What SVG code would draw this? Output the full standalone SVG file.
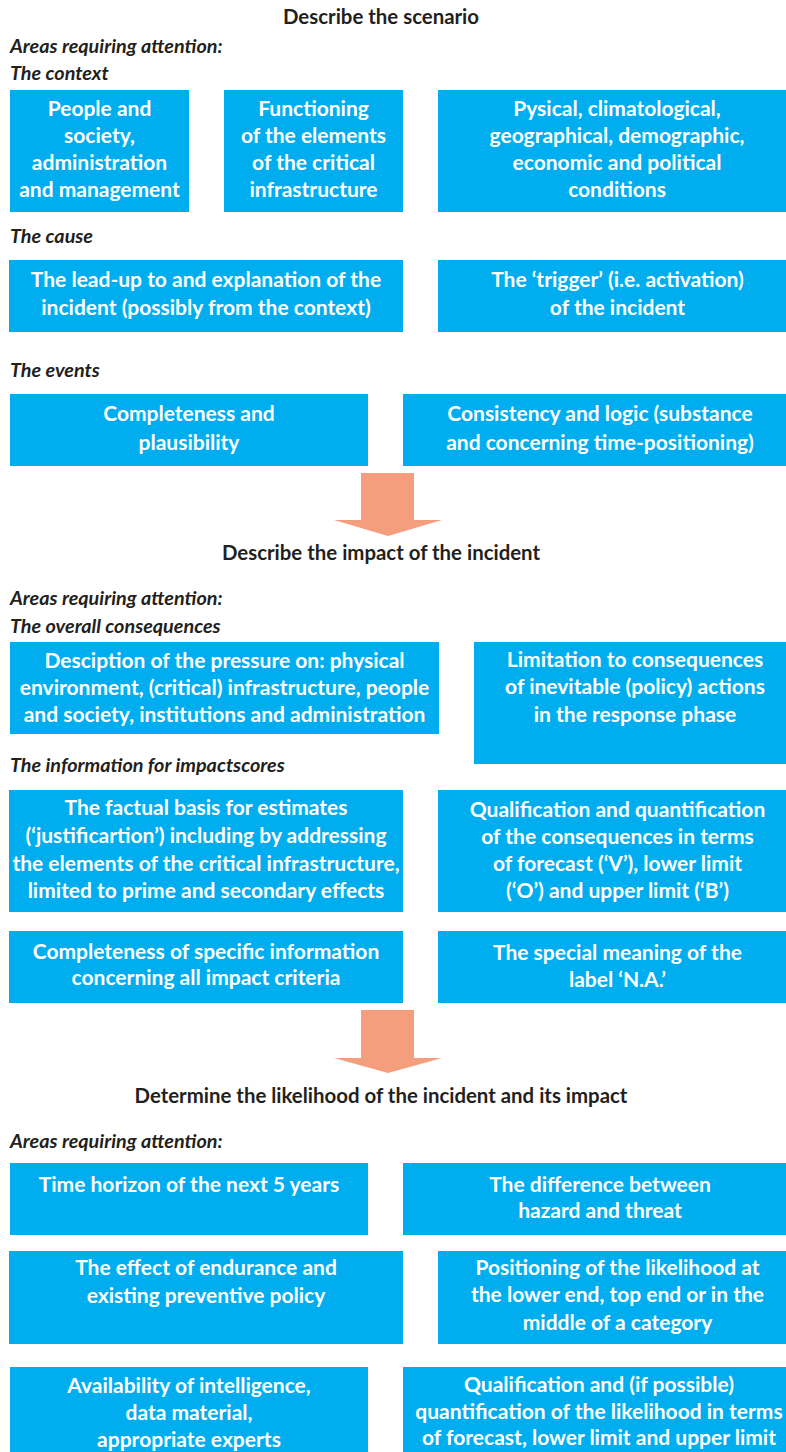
<svg xmlns="http://www.w3.org/2000/svg" width="786" height="1452" viewBox="0 0 786 1452">
<style>
.b{fill:#00aeef}
.t{font-family:Lato,"Open Sans","Liberation Sans",sans-serif;font-weight:700;font-size:21px;fill:#ffffff;text-anchor:middle}
.h{font-family:Lato,"Open Sans","Liberation Sans",sans-serif;font-weight:700;font-size:20.4px;fill:#231f20;text-anchor:middle}
.l{font-family:Lato,"Open Sans","Liberation Sans",sans-serif;font-weight:700;font-style:italic;font-size:19.8px;fill:#231f20}
.a{fill:#f59e7e}
</style>
<rect width="786" height="1452" fill="#ffffff"/>
<g id="headings">
<text class="h" x="381" y="24">Describe the scenario</text>
<text class="l" x="10" y="53">Areas requiring attention:</text>
<text class="l" x="10" y="80">The context</text>
<text class="l" x="10" y="243">The cause</text>
<text class="l" x="10" y="377">The events</text>
<text class="h" x="381" y="560">Describe the impact of the incident</text>
<text class="l" x="10" y="605">Areas requiring attention:</text>
<text class="l" x="10" y="633">The overall consequences</text>
<text class="l" x="10" y="772">The information for impactscores</text>
<text class="h" x="381" y="1103">Determine the likelihood of the incident and its impact</text>
<text class="l" x="10" y="1148">Areas requiring attention:</text>
</g>
<g id="connectors">
<polygon class="a" points="361,473 414,473 414,520 442,520 388,536 334,520 361,520"/>
<polygon class="a" points="361,1010 414,1010 414,1058 442,1058 388,1073 334,1058 361,1058"/>
</g>
<g id="n1"><rect class="b" x="10" y="90" width="179" height="122"/>
<text class="t" x="99.5" y="116">People and</text><text class="t" x="99.5" y="143">society,</text><text class="t" x="99.5" y="170">administration</text><text class="t" x="99.5" y="197">and management</text></g>
<g id="n2"><rect class="b" x="224" y="90" width="179" height="122"/>
<text class="t" x="313.5" y="116">Functioning</text><text class="t" x="313.5" y="143">of the elements</text><text class="t" x="313.5" y="170">of the critical</text><text class="t" x="313.5" y="197">infrastructure</text></g>
<g id="n3"><rect class="b" x="438" y="90" width="348" height="122"/>
<text class="t" x="617" y="116">Pysical, climatological,</text><text class="t" x="617" y="143">geographical, demographic,</text><text class="t" x="617" y="170">economic and political</text><text class="t" x="617" y="197">conditions</text></g>
<g id="n4"><rect class="b" x="9" y="260" width="394" height="72"/>
<text class="t" x="206" y="287">The lead-up to and explanation of the</text><text class="t" x="206" y="315">incident (possibly from the context)</text></g>
<g id="n5"><rect class="b" x="438" y="260" width="348" height="72"/>
<text class="t" x="617.5" y="287">The ‘trigger’ (i.e. activation)</text><text class="t" x="617.5" y="315">of the incident</text></g>
<g id="n6"><rect class="b" x="10" y="394" width="358" height="72"/>
<text class="t" x="189" y="421">Completeness and</text><text class="t" x="189" y="450">plausibility</text></g>
<g id="n7"><rect class="b" x="403" y="394" width="383" height="72"/>
<text class="t" x="600" y="421">Consistency and logic (substance</text><text class="t" x="600" y="450">and concerning time-positioning)</text></g>
<g id="n8"><rect class="b" x="10" y="642" width="429" height="92"/>
<text class="t" x="224.5" y="668">Desciption of the pressure on: physical</text><text class="t" x="224.5" y="695">environment, (critical) infrastructure, people</text><text class="t" x="224.5" y="722">and society, institutions and administration</text></g>
<g id="n9"><rect class="b" x="474" y="642" width="312" height="122"/>
<text class="t" x="635" y="667">Limitation to consequences</text><text class="t" x="635" y="694">of inevitable (policy) actions</text><text class="t" x="635" y="722">in the response phase</text></g>
<g id="n10"><rect class="b" x="9" y="790" width="394" height="122"/>
<text class="t" x="206" y="815">The factual basis for estimates</text><text class="t" x="206" y="843">(‘justificartion’) including by addressing</text><text class="t" x="206" y="871">the elements of the critical infrastructure,</text><text class="t" x="206" y="898">limited to prime and secondary effects</text></g>
<g id="n11"><rect class="b" x="438" y="790" width="348" height="122"/>
<text class="t" x="617.5" y="817">Qualification and quantification</text><text class="t" x="617.5" y="844">of the consequences in terms</text><text class="t" x="617.5" y="871">of forecast (‘V’), lower limit</text><text class="t" x="617.5" y="898">(‘O’) and upper limit (‘B’)</text></g>
<g id="n12"><rect class="b" x="9" y="931" width="394" height="72"/>
<text class="t" x="206" y="959">Completeness of specific information</text><text class="t" x="206" y="985">concerning all impact criteria</text></g>
<g id="n13"><rect class="b" x="438" y="931" width="348" height="72"/>
<text class="t" x="617.5" y="960">The special meaning of the</text><text class="t" x="617.5" y="987">label ‘N.A.’</text></g>
<g id="n14"><rect class="b" x="10" y="1163" width="358" height="72"/>
<text class="t" x="189" y="1192">Time horizon of the next 5 years</text></g>
<g id="n15"><rect class="b" x="403" y="1163" width="383" height="72"/>
<text class="t" x="600" y="1192">The difference between</text><text class="t" x="600" y="1218">hazard and threat</text></g>
<g id="n16"><rect class="b" x="9" y="1251" width="394" height="93"/>
<text class="t" x="206" y="1275">The effect of endurance and</text><text class="t" x="206" y="1303">existing preventive policy</text></g>
<g id="n17"><rect class="b" x="438" y="1251" width="348" height="93"/>
<text class="t" x="617.5" y="1275">Positioning of the likelihood at</text><text class="t" x="617.5" y="1302">the lower end, top end or in the</text><text class="t" x="617.5" y="1330">middle of a category</text></g>
<g id="n18"><rect class="b" x="10" y="1367" width="358" height="85"/>
<text class="t" x="189" y="1393">Availability of intelligence,</text><text class="t" x="189" y="1420">data material,</text><text class="t" x="189" y="1447">appropriate experts</text></g>
<g id="n19"><rect class="b" x="403" y="1367" width="383" height="85"/>
<text class="t" x="599" y="1392">Qualification and (if possible)</text><text class="t" x="599" y="1419">quantification of the likelihood in terms</text><text class="t" x="599" y="1445">of forecast, lower limit and upper limit</text></g>
</svg>
